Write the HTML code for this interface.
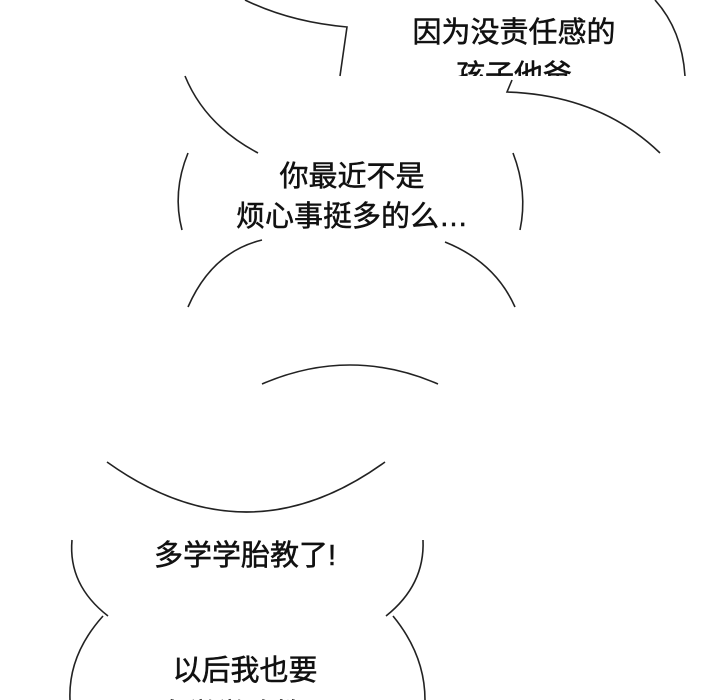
<!DOCTYPE html>
<html><head><meta charset="utf-8"><style>
html,body{margin:0;padding:0;background:#fff;width:720px;height:700px;overflow:hidden}
svg{display:block}
text{font-family:"Liberation Sans","Noto Sans CJK SC",sans-serif;font-size:29px;fill:#111;stroke:#111;stroke-width:0.5;text-anchor:middle}
</style></head><body>
<svg width="720" height="700" viewBox="0 0 720 700" xmlns="http://www.w3.org/2000/svg">
<defs>
<clipPath id="c1"><rect x="0" y="0" width="720" height="76"/></clipPath>
</defs>
<g fill="none" stroke="#222" stroke-width="1.6">
<path d="M245,0 Q290,22 347,27 L340,76"/>
<path d="M655,0 Q682,30 685,76"/>
<path d="M185,76 Q205,125 258,153"/>
<path d="M512,80 L507,92 Q600,95 660,153"/>
<path d="M188,153 Q172,192 182,230"/>
<path d="M513,153 Q528,192 520,230"/>
<path d="M188,307 Q212,252 262,240"/>
<path d="M445,242 Q495,262 515,307"/>
<path d="M262,384 Q350,346 438,384"/>
<path d="M107,462 Q247,562 385,462"/>
<path d="M72,540 Q68,585 108,616"/>
<path d="M423,540 Q425,585 386,616"/>
<path d="M103,616 Q68,655 70,700"/>
<path d="M393,616 Q425,655 425,700"/>
</g>
<text x="514" y="42">因为没责任感的</text>
<text x="514" y="85" clip-path="url(#c1)">孩子他爸</text>
<text x="352" y="186">你最近不是</text>
<text x="352" y="226">烦心事挺多的么…</text>
<text x="245" y="565">多学学胎教了!</text>
<text x="245" y="680">以后我也要</text>
<text x="245" y="724">多学学胎教了</text>
</svg>
</body></html>
